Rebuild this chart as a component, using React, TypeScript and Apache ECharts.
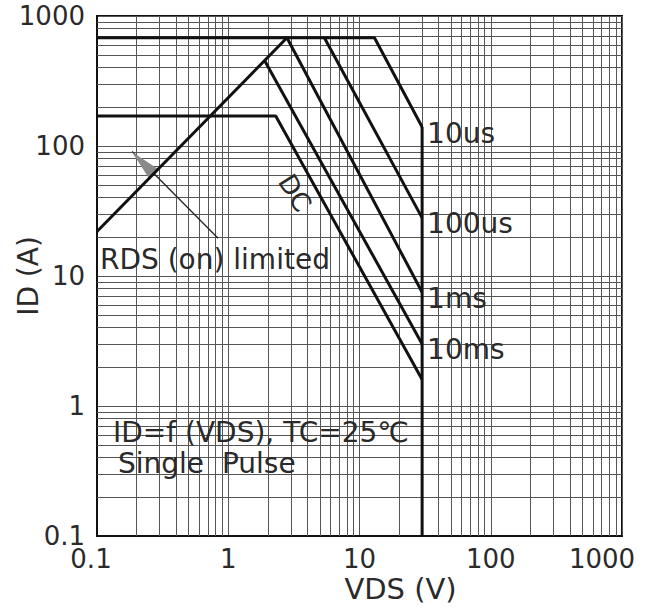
import React, { useEffect, useRef } from 'react';
import * as echarts from 'echarts';

// ---- data ----
const xTickLabels = ['0.1', '1', '10', '100', '1000'];
const yTickLabels = ['0.1', '1', '10', '100', '1000'];
const decadeStarts = [0.1, 1, 10, 100];
const minorMultipliers = [2, 3, 4, 5, 6, 7, 8, 9];

const rdsLimit = [[0.1, 22], [2.8, 680]];
const curve10us = [[0.1, 680], [13, 680], [30, 140]];
const curve100us = [[5.4, 680], [30, 28]];
const curve1ms = [[2.8, 680], [30, 7.5]];
const curve10ms = [[1.9, 450], [30, 3]];
const curveDC = [[0.1, 170], [2.3, 170], [30, 1.6]];
const vdsLimit = [[30, 140], [30, 0.1]];

const curveNames = ['RDS(on) limited', '10us', '100us', '1ms', '10ms', 'DC', 'VDS max'];
const curveLabels = ['', '10us', '100us', '1ms', '10ms', '', ''];
const curveData = [rdsLimit, curve10us, curve100us, curve1ms, curve10ms, curveDC, vdsLimit];

const arrowTail = [0.836, 19.5];
const arrowTip = [0.185, 90.6];
const arrowHead = [0.2226, 74.5];

const FONT = 'DejaVu Sans, Noto Sans, sans-serif';
const TXT = '#2a2a2a';

export default function App() {
  const ref = useRef<HTMLDivElement>(null);
  useEffect(() => {
    const chart = echarts.init(ref.current!, null, { renderer: 'svg' });
    const minorValues: number[] = [];
    decadeStarts.forEach((d) => minorMultipliers.forEach((m) => minorValues.push(+(d * m).toPrecision(3))));

    const gridLines = [
      ...minorValues.map((v) => ({ xAxis: v })),
      ...minorValues.map((v) => ({ yAxis: v })),
    ];

    const curveSeries = curveData.map((data, i) => ({
      name: curveNames[i],
      type: 'line',
      data,
      symbol: 'none',
      showSymbol: false,
      silent: true,
      z: 5,
      lineStyle: { color: '#111', width: 3 },
      endLabel: curveLabels[i]
        ? {
            show: true,
            formatter: curveLabels[i],
            color: TXT,
            fontSize: 28,
            fontFamily: FONT,
            distance: 5,
            offset: [0, 6],
          }
        : { show: false },
    }));

    const option: any = {
      animation: false,
      backgroundColor: '#fff',
      grid: {
        left: 97,
        top: 16,
        right: 32,
        bottom: 74,
        show: true,
        borderColor: '#111',
        borderWidth: 2,
        containLabel: false,
        outerBoundsMode: 'none',
      },
      xAxis: {
        type: 'log',
        logBase: 10,
        min: 0.1,
        max: 1000,
        name: 'VDS (V)',
        nameLocation: 'middle',
        nameGap: 38,
        nameMoveOverlap: false,
        nameTextStyle: { fontSize: 29, fontFamily: FONT, color: TXT, padding: [0, 0, 0, 82] },
        axisLine: { show: true, lineStyle: { color: '#111', width: 2 } },
        axisTick: { show: false },
        splitLine: { show: true, lineStyle: { color: '#555', width: 1 } },
        axisLabel: {
          fontSize: 26,
          fontFamily: FONT,
          color: TXT,
          margin: 10,
          formatter: (v: number) => {
            const i = Math.round(Math.log10(v)) + 1;
            const s = xTickLabels[i] ?? '';
            if (i === 4) return `{last|${s}}`;
            if (i === 0) return `{first|${s}}`;
            return s;
          },
          rich: {
            last: { fontSize: 26, fontFamily: FONT, color: TXT, padding: [0, 40, 12, 0] },
            first: { fontSize: 26, fontFamily: FONT, color: TXT, padding: [0, 12, 0, 0] },
          },
        },
      },
      yAxis: {
        type: 'log',
        logBase: 10,
        min: 0.1,
        max: 1000,
        name: 'ID (A)',
        nameLocation: 'middle',
        nameGap: 55,
        nameMoveOverlap: false,
        nameTextStyle: { fontSize: 28, fontFamily: FONT, color: TXT },
        axisLine: { show: true, lineStyle: { color: '#111', width: 2 } },
        axisTick: { show: false },
        splitLine: { show: true, lineStyle: { color: '#555', width: 1 } },
        axisLabel: {
          fontSize: 26,
          fontFamily: FONT,
          color: TXT,
          margin: 12,
          padding: [10, 0, 0, 0],
          formatter: (v: number) => yTickLabels[Math.round(Math.log10(v)) + 1] ?? '',
        },
      },
      series: [
        {
          name: 'grid',
          type: 'line',
          data: [[1, 1]],
          symbol: 'none',
          lineStyle: { opacity: 0 },
          silent: true,
          z: 1,
          markLine: {
            silent: true,
            symbol: 'none',
            label: { show: false },
            lineStyle: { color: '#555', width: 1, type: 'solid' },
            data: gridLines,
          },
        },
        ...curveSeries,
        {
          name: 'annotation',
          type: 'line',
          data: [],
          symbol: 'none',
          silent: true,
          z: 6,
          markLine: {
            silent: true,
            symbol: 'none',
            label: { show: false },
            lineStyle: { color: '#222', width: 1.3, type: 'solid' },
            data: [[{ coord: arrowTail }, { coord: arrowTip }]],
          },
          markPoint: {
            silent: true,
            label: { show: false },
            data: [
              {
                coord: arrowHead,
                symbol: 'triangle',
                symbolSize: [13, 30],
                symbolRotate: 45,
                itemStyle: { color: '#8a8a8a' },
              },
            ],
          },
        },
      ],
      graphic: [
        {
          type: 'text',
          x: 100,
          y: 259,
          z: 10,
          style: {
            text: 'RDS (on) limited',
            fontSize: 28,
            fontFamily: FONT,
            fill: TXT,
            textVerticalAlign: 'middle',
            textAlign: 'left',
          },
        },
        {
          type: 'text',
          x: 295,
          y: 193,
          rotation: (-58 * Math.PI) / 180,
          z: 10,
          style: {
            text: 'DC',
            fontSize: 26,
            fontFamily: FONT,
            fill: TXT,
            textVerticalAlign: 'middle',
            textAlign: 'center',
          },
        },
        {
          type: 'text',
          x: 113,
          y: 432,
          z: 10,
          style: {
            text: 'ID=f (VDS), TC=25℃',
            fontSize: 28,
            fontFamily: FONT,
            fill: TXT,
            textVerticalAlign: 'middle',
            textAlign: 'left',
          },
        },
        {
          type: 'text',
          x: 118,
          y: 463,
          z: 10,
          style: {
            text: 'Single  Pulse',
            fontSize: 28,
            fontFamily: FONT,
            fill: TXT,
            textVerticalAlign: 'middle',
            textAlign: 'left',
          },
        },
      ],
    };
    chart.setOption(option);
    return () => chart.dispose();
  }, []);
  return (
    <div
      ref={ref}
      style={{ position: 'fixed', left: 0, top: 0, width: 654, height: 610, background: '#fff' }}
    />
  );
}
